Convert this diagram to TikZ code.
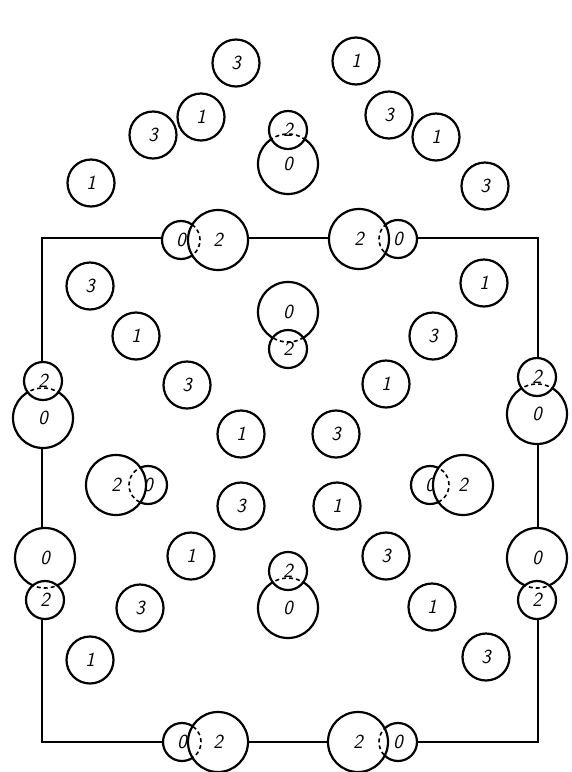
\documentclass[tikz,border=0pt]{standalone}
\usepackage{tikz}
\usetikzlibrary{positioning}

\begin{document}
\begin{tikzpicture}[
    x=1pt, y=-1pt,
    every node/.style={font=\fontsize{20}{20}\selectfont\sffamily\slshape},
    atom/.style={circle, draw, line width=2.2pt, fill=white, minimum size=47pt, inner sep=0pt},
    big/.style={atom, minimum size=60pt},
    small/.style={atom, minimum size=38pt},
    hid/.style={line width=1.6pt, dash pattern=on 4pt off 3pt},
    cell/.style={line width=1.2pt}
]
    \useasboundingbox (0,0) rectangle (571,772);

    % unit cell
    \draw[cell] (42,238) rectangle (538,742);

    % single atoms, outside the cell
    \node[atom] (t3a) at (236,63)  {3};
    \node[atom] (t1a) at (356,61)  {1};
    \node[atom] (t1b) at (201,117) {1};
    \node[atom] (t3b) at (389,115) {3};
    \node[atom] (t3c) at (153,135) {3};
    \node[atom] (t1c) at (436,137) {1};
    \node[atom] (t1d) at (91,183)  {1};
    \node[atom] (t3d) at (485,186) {3};

    % single atoms, inside the cell
    \node[atom] (a3a) at (90,286)  {3};
    \node[atom] (a1a) at (136,336) {1};
    \node[atom] (a3b) at (187,385) {3};
    \node[atom] (a1b) at (241,434) {1};
    \node[atom] (b1a) at (484,283) {1};
    \node[atom] (b3a) at (433,336) {3};
    \node[atom] (b1b) at (386,384) {1};
    \node[atom] (b3b) at (336,434) {3};
    \node[atom] (c3a) at (241,506) {3};
    \node[atom] (c1a) at (191,556) {1};
    \node[atom] (c3b) at (140,608) {3};
    \node[atom] (c1b) at (90,660)  {1};
    \node[atom] (d1a) at (337,506) {1};
    \node[atom] (d3a) at (386,556) {3};
    \node[atom] (d1b) at (432,607) {1};
    \node[atom] (d3b) at (486,657) {3};

    % side by side pairs: 0 lies behind 2
    \foreach \n/\xs/\xb/\yy in {p1/181/218/240, p2/398/359/239, p3/148/116/485,
                                p4/430/463/485, p5/182/218/742, p6/398/358/742} {
        \node[small] (\n s) at (\xs,\yy) {0};
        \node[big]   (\n b) at (\xb,\yy) {2};
        \begin{scope}
            \clip (\n b.center) circle[radius=30pt];
            \draw[hid] (\n s.center) circle[radius=19pt];
        \end{scope}
    }

    % stacked pairs: 0 lies behind 2
    \foreach \n/\xx/\ys/\yb in {q1/288/130/164, q2/288/349/312, q3/43/381/418,
                                q4/537/377/414, q5/45/600/558, q6/537/600/558,
                                q7/288/571/608} {
        \node[big]   (\n b) at (\xx,\yb) {0};
        \node[small] (\n s) at (\xx,\ys) {2};
        \begin{scope}
            \clip (\n s.center) circle[radius=19pt];
            \draw[hid] (\n b.center) circle[radius=30pt];
        \end{scope}
    }
\end{tikzpicture}
\end{document}
